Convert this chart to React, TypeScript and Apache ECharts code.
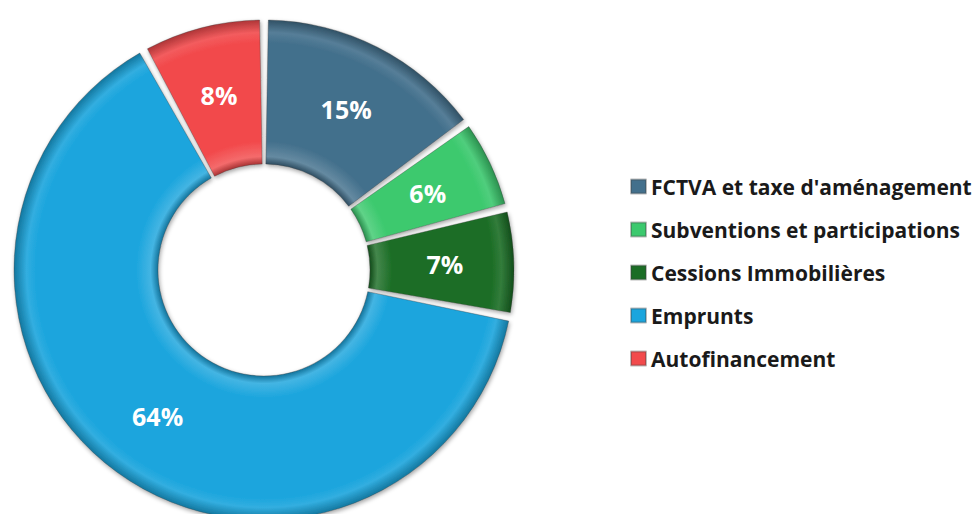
import React, { useEffect, useRef } from "react";
import * as echarts from "echarts";

const categories = [
  "FCTVA et taxe d'aménagement",
  "Subventions et participations",
  "Cessions Immobilières",
  "Emprunts",
  "Autofinancement",
];
const values = [15, 6, 7, 64, 8];
const colors = ["#43708c", "#3cc96e", "#1b6d25", "#1ba5dd", "#f24a4c"];

const CX = 256;
const CY = 262;
const R_IN = 106;
const R_OUT = 250;

function shade(hex: string, f: number): string {
  const n = parseInt(hex.slice(1), 16);
  let r = (n >> 16) & 255;
  let g = (n >> 8) & 255;
  let b = n & 255;
  const adj = (c: number) =>
    f >= 1 ? Math.round(c + (255 - c) * (f - 1)) : Math.round(c * f);
  r = adj(r);
  g = adj(g);
  b = adj(b);
  return "rgb(" + r + "," + g + "," + b + ")";
}

function bevel(hex: string) {
  const a = R_IN / R_OUT;
  return new echarts.graphic.RadialGradient(
    CX,
    CY,
    R_OUT,
    [
      { offset: 0, color: shade(hex, 0.7) },
      { offset: a, color: shade(hex, 0.7) },
      { offset: a + 0.03, color: shade(hex, 1.18) },
      { offset: a + 0.09, color: hex },
      { offset: 0.91, color: hex },
      { offset: 0.95, color: shade(hex, 1.1) },
      { offset: 1, color: shade(hex, 0.72) },
    ],
    true
  );
}

export default function App() {
  const ref = useRef<HTMLDivElement>(null);
  useEffect(() => {
    if (!ref.current) return;
    const chart = echarts.init(ref.current, null, { renderer: "svg" });
    chart.setOption({
      animation: false,
      backgroundColor: "#ffffff",
      legend: {
        orient: "vertical",
        left: 617,
        top: 163,
        itemWidth: 15,
        itemHeight: 14,
        itemGap: 22,
        icon: "rect",
        data: categories.map((name, i) => ({
          name,
          itemStyle: { color: colors[i] },
        })),
        textStyle: {
          fontFamily: "Open Sans",
          fontWeight: "bold",
          fontSize: 21,
          color: "#1a1a1a",
          padding: [0, 0, 0, 0],
        },
      },
      series: [
        {
          type: "pie",
          center: [CX, CY],
          radius: [R_IN, R_OUT],
          startAngle: 90,
          clockwise: true,
          padAngle: 2,
          avoidLabelOverlap: false,
          itemStyle: {
            borderColor: "rgba(60,60,60,0.35)",
            borderWidth: 1,
            shadowBlur: 4,
            shadowOffsetX: 1,
            shadowOffsetY: 2,
            shadowColor: "rgba(0,0,0,0.35)",
          },
          label: {
            show: true,
            position: "inside",
            formatter: "{c}%",
            color: "#ffffff",
            fontFamily: "Open Sans",
            fontWeight: "bold",
            fontSize: 25,
          },
          labelLine: { show: false },
          data: categories.map((name, i) => ({
            name,
            value: values[i],
            itemStyle: { color: bevel(colors[i]) },
          })),
        },
      ],
    });
    return () => chart.dispose();
  }, []);
  return <div ref={ref} style={{ width: 964, height: 506 }} />;
}
